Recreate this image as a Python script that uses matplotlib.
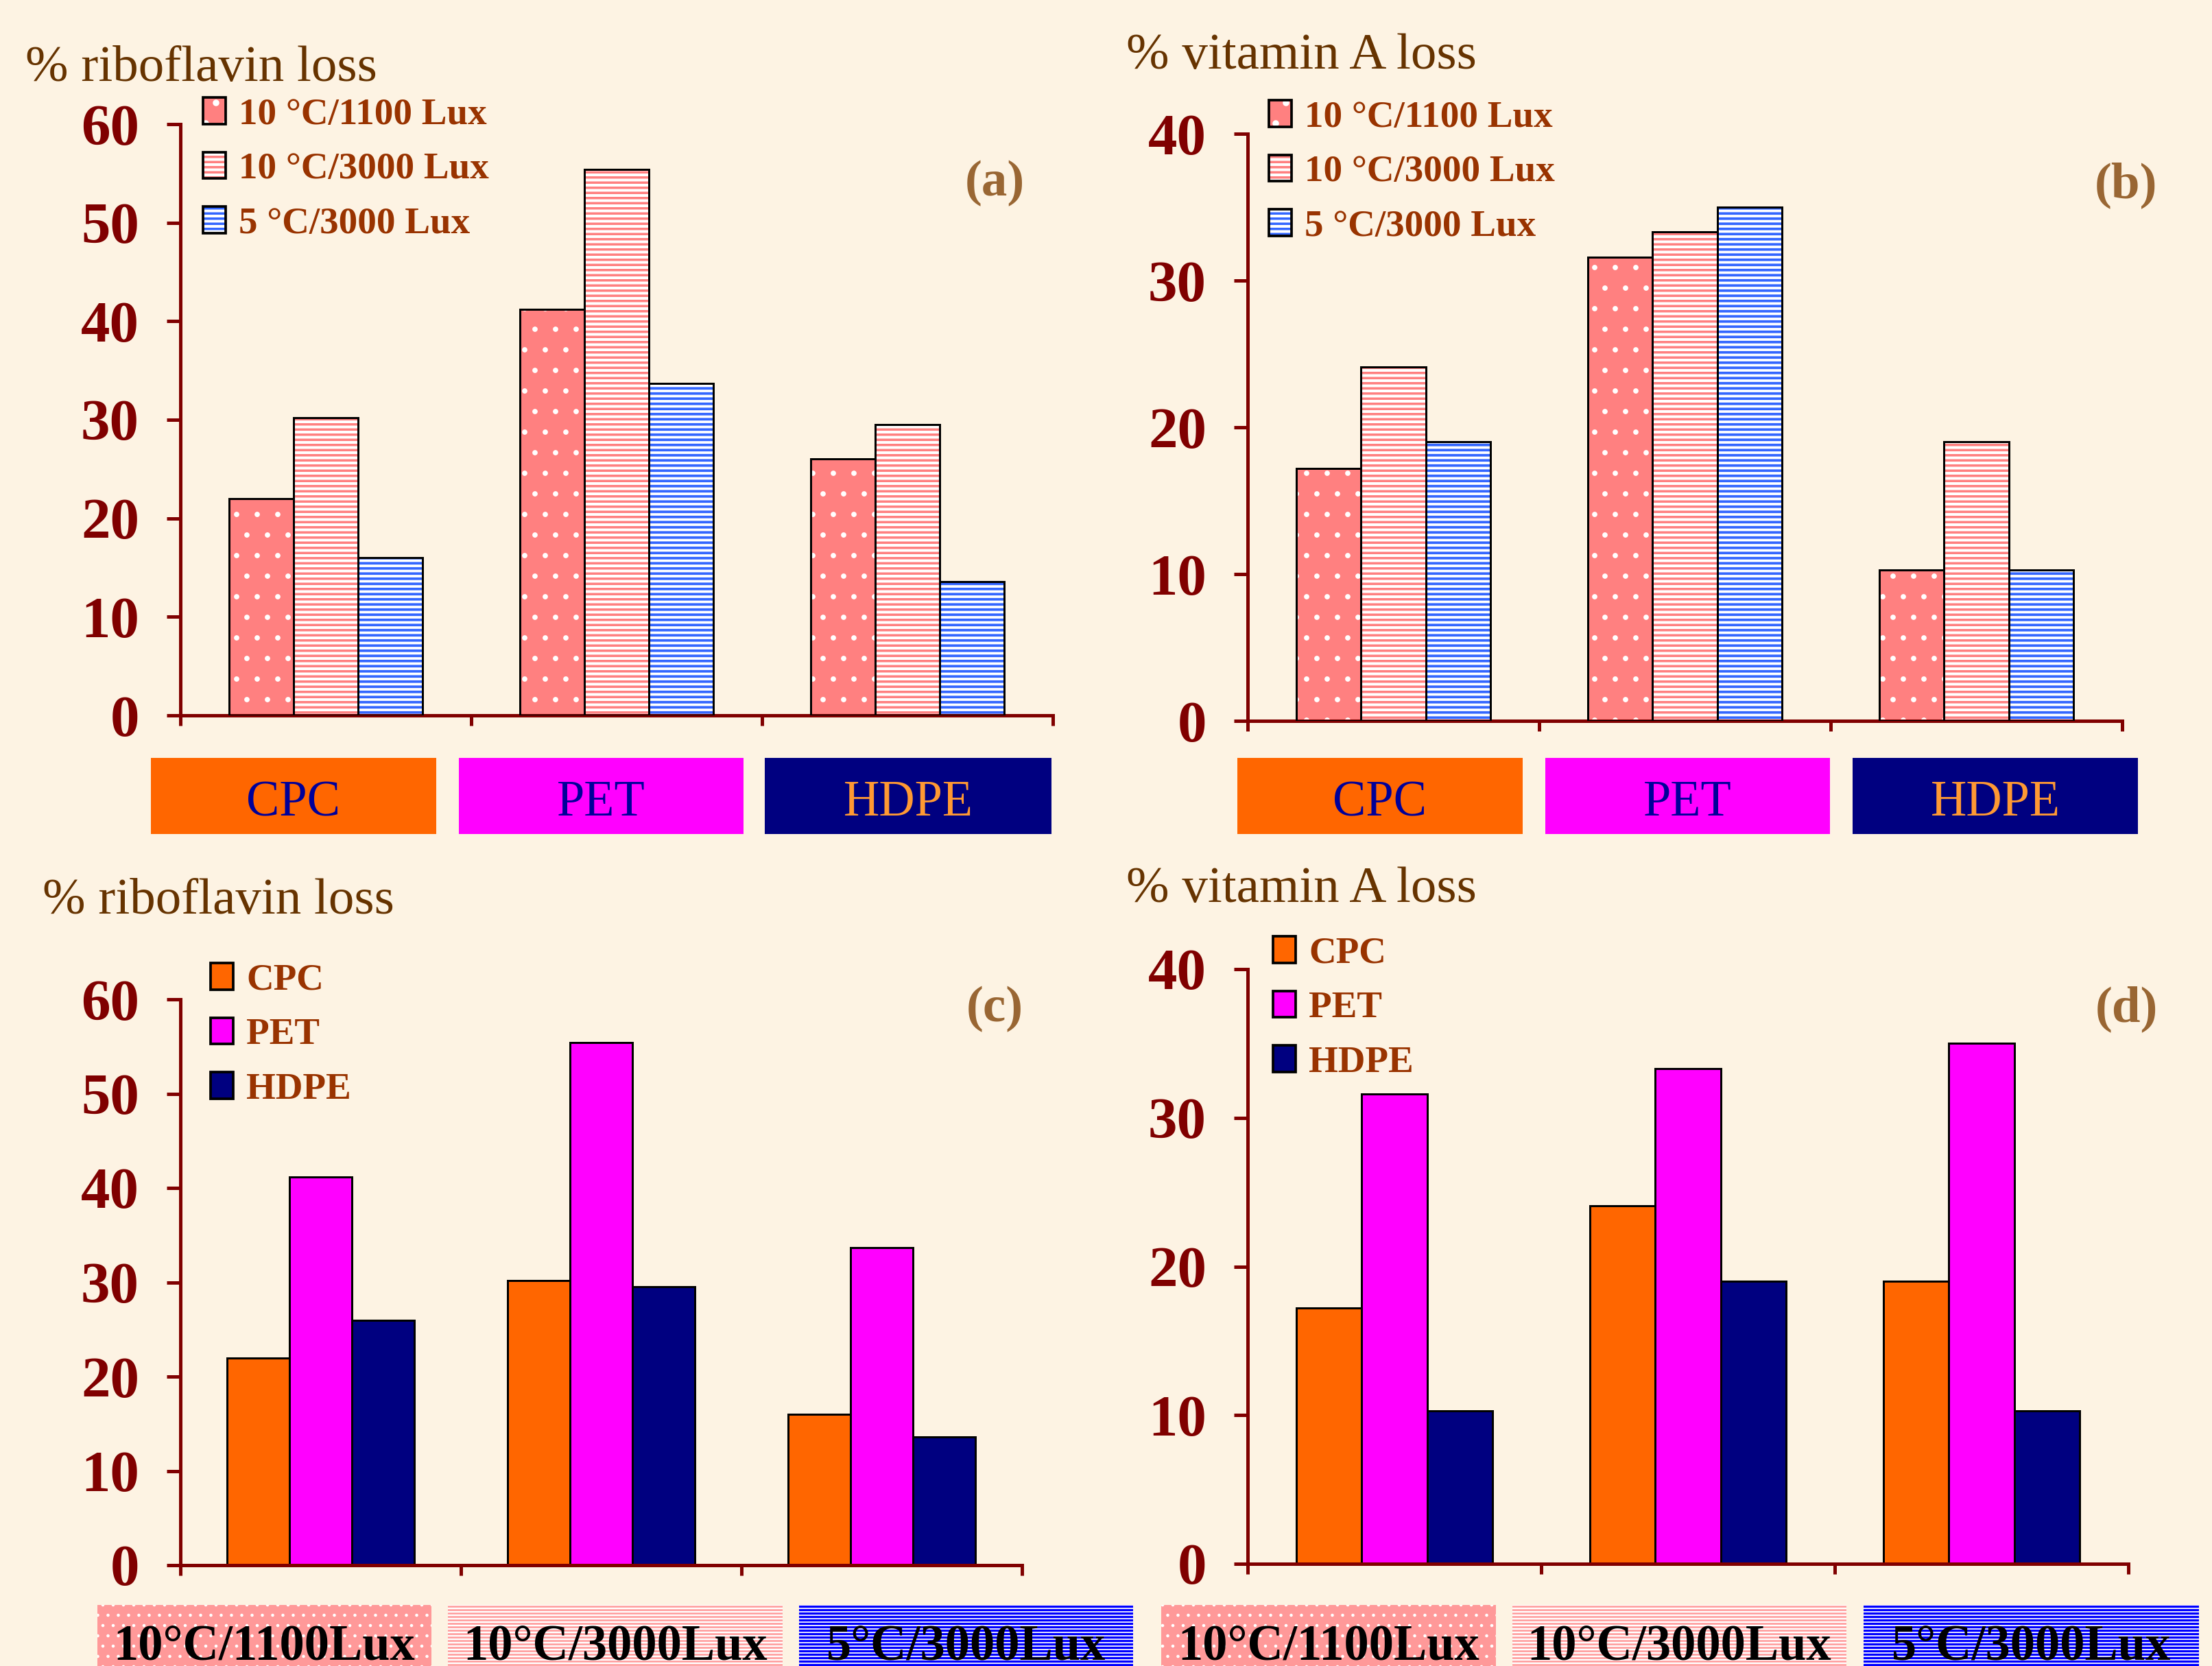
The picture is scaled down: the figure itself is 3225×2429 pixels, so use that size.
import matplotlib.pyplot as plt
import numpy as np
from matplotlib.patches import Rectangle

W, H = 3226, 2429
DPI = 180

packs = ['CPC', 'PET', 'HDPE']
conds = ['10 °C/1100 Lux', '10 °C/3000 Lux', '5 °C/3000 Lux']
conds_box = ['10°C/1100Lux', '10°C/3000Lux', '5°C/3000Lux']

# % loss per storage condition, columns follow packs (CPC, PET, HDPE)
ribo_10c_1100 = [22.0, 41.2, 26.0]
ribo_10c_3000 = [30.2, 55.4, 29.5]
ribo_5c_3000 = [16.0, 33.7, 13.6]
vita_10c_1100 = [17.2, 31.6, 10.3]
vita_10c_3000 = [24.1, 33.3, 19.0]
vita_5c_3000 = [19.0, 35.0, 10.3]

plt.rcParams['font.family'] = ['Liberation Serif', 'DejaVu Serif']
plt.rcParams['hatch.linewidth'] = 1.4

BG = '#FDF3E3'
MAROON = '#800000'
pack_cols = ['#FF6600', '#FF00FF', '#000080']
pack_txt = ['#000099', '#000099', '#FF9933']
# face, hatch colour, hatch, hatch line width for each condition
cond_sty = [('#FF8080', 'white', '.', 0.7),
            ('white', '#FF8080', '----', 1.4),
            ('white', '#3366FF', '----', 1.5)]
box_sty = [('#FF9999', 'white', '..', 0.6),
           ('white', '#FF9999', '------', 1.0),
           ('white', '#0000FF', '------', 1.3)]

fig = plt.figure(figsize=(W / DPI, H / DPI), dpi=DPI, facecolor=BG)


def fx(x):
    return x / W


def fy(y):
    return 1 - y / H


def make_ax(l, r, top, bot, ymax):
    ax = fig.add_axes([fx(l), fy(bot), (r - l) / W, (bot - top) / H])
    ax.set_facecolor('none')
    ax.set_xlim(-0.5, 2.5)
    ax.set_ylim(0, ymax)
    ax.set_yticks(np.arange(0, ymax + 1, 10))
    ax.set_xticks([-0.5, 0.5, 1.5, 2.5])
    ax.set_xticklabels([])
    for s in ['top', 'right']:
        ax.spines[s].set_visible(False)
    for s in ['left', 'bottom']:
        ax.spines[s].set_color(MAROON)
        ax.spines[s].set_linewidth(2)
    ax.tick_params(axis='y', direction='out', length=8, width=2, color=MAROON,
                   labelcolor=MAROON, labelsize=34, pad=16)
    ax.tick_params(axis='x', direction='out', length=6, width=2, color=MAROON)
    for t in ax.get_yticklabels():
        t.set_fontweight('bold')
    return ax


def legend(ax, handles, labels, x, y):
    ax.legend(handles, labels, loc='upper left', bbox_to_anchor=(fx(x), fy(y)),
              bbox_transform=fig.transFigure, frameon=False,
              prop=dict(weight='bold', size=22), labelcolor='#993300',
              handlelength=0.6, handleheight=0.7, handletextpad=0.35,
              labelspacing=0.53, borderpad=0, borderaxespad=0)


def hatched_panel(ax, series):
    w = 0.222
    x = np.arange(len(packs))
    handles = []
    for j, vals in enumerate(series):
        face, hcol, hatch, hlw = cond_sty[j]
        with plt.rc_context({'hatch.linewidth': hlw}):
            ax.bar(x + (j - 1) * w, vals, w, color=face, edgecolor=hcol,
                   hatch=hatch, linewidth=0, zorder=2)
            fill = Rectangle((0, 0), 1, 1, facecolor=face, edgecolor=hcol,
                             hatch=hatch, linewidth=0)
        ax.bar(x + (j - 1) * w, vals, w, fill=False, edgecolor='black',
               linewidth=1.2, zorder=3)
        handles.append((fill, Rectangle((0, 0), 1, 1, fill=False,
                                        edgecolor='black', linewidth=1.5)))
    return handles


def solid_panel(ax, series):
    w = 0.222
    x = np.arange(len(conds))
    handles = []
    for j, vals in enumerate(series):
        ax.bar(x + (j - 1) * w, vals, w, color=pack_cols[j], edgecolor='black',
               linewidth=1.2, zorder=2)
        handles.append(Rectangle((0, 0), 1, 1, facecolor=pack_cols[j],
                                 edgecolor='black', linewidth=1.5))
    return handles


ribo = [ribo_10c_1100, ribo_10c_3000, ribo_5c_3000]
vita = [vita_10c_1100, vita_10c_3000, vita_5c_3000]
ribo_by_pack = [list(v) for v in zip(*ribo)]
vita_by_pack = [list(v) for v in zip(*vita)]

# (a)
ax_a = make_ax(263, 1535, 181, 1043, 60)
h = hatched_panel(ax_a, ribo)
legend(ax_a, h, conds, 296, 142)
# (b)
ax_b = make_ax(1819, 3094, 195, 1051, 40)
h = hatched_panel(ax_b, vita)
legend(ax_b, h, conds, 1850, 146)
# (c)
ax_c = make_ax(263, 1490, 1457, 2282, 60)
h = solid_panel(ax_c, ribo_by_pack)
legend(ax_c, h, packs, 307, 1404)
# (d)
ax_d = make_ax(1819, 3103, 1413, 2280, 40)
h = solid_panel(ax_d, vita_by_pack)
legend(ax_d, h, packs, 1856, 1365)

# axis titles and panel letters
for txt, x, y in [('% riboflavin loss', 37, 118), ('% vitamin A loss', 1642, 100),
                  ('% riboflavin loss', 62, 1332), ('% vitamin A loss', 1642, 1315)]:
    fig.text(fx(x), fy(y), txt, fontsize=30, color='#663300', va='baseline')
for txt, x, y in [('(a)', 1450, 267), ('(b)', 3100, 270),
                  ('(c)', 1450, 1471), ('(d)', 3100, 1471)]:
    fig.text(fx(x), fy(y), txt, fontsize=30, weight='bold', color='#996633',
             ha='center', va='center')

# coloured package boxes under (a) and (b)
box_x = [[(220, 636), (669, 1084), (1115, 1533)],
         [(1804, 2220), (2253, 2668), (2701, 3117)]]
for row in box_x:
    for i, (x0, x1) in enumerate(row):
        fig.add_artist(Rectangle((fx(x0), fy(1216)), (x1 - x0) / W, 111 / H,
                                 transform=fig.transFigure, facecolor=pack_cols[i],
                                 edgecolor='none'))
        fig.text(fx((x0 + x1) / 2), fy(1189), packs[i], fontsize=29,
                 color=pack_txt[i], ha='center', va='baseline')

# hatched condition boxes under (c) and (d)
cond_x = [[(142, 629), (653, 1141), (1165, 1652)],
          [(1693, 2181), (2205, 2692), (2717, 3206)]]
for row in cond_x:
    for i, (x0, x1) in enumerate(row):
        face, hcol, hatch, hlw = box_sty[i]
        with plt.rc_context({'hatch.linewidth': hlw}):
            fig.add_artist(Rectangle((fx(x0), fy(2470)), (x1 - x0) / W, 130 / H,
                                     transform=fig.transFigure, facecolor=face,
                                     edgecolor=hcol, hatch=hatch, linewidth=0))
        fig.text(fx((x0 + x1) / 2), fy(2420), conds_box[i], fontsize=29,
                 weight='bold', color='black', ha='center', va='baseline')

fig.savefig('out.png', dpi=DPI, facecolor=BG)
